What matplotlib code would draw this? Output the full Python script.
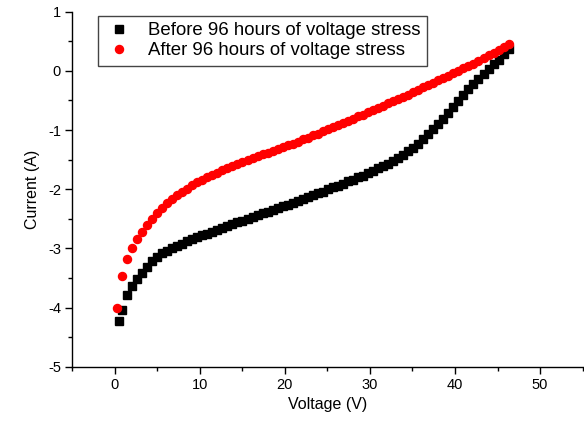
import matplotlib
matplotlib.use("Agg")
import matplotlib.pyplot as plt
from matplotlib.ticker import MultipleLocator

plt.rcParams['font.family'] = ['Liberation Sans', 'DejaVu Sans']
plt.rcParams['axes.unicode_minus'] = False

# shared part of the voltage sweep (V)
sweep = [0.87, 1.46, 2.05, 2.64, 3.23, 3.82, 4.41, 5.00, 5.59, 6.18,
         6.77, 7.36, 7.95, 8.54, 9.13, 9.72, 10.31, 10.90, 11.49, 12.08,
         12.67, 13.26, 13.85, 14.44, 15.03, 15.62, 16.21, 16.80, 17.39, 17.98,
         18.57, 19.16, 19.75, 20.34, 20.93, 21.52, 22.11, 22.70, 23.29, 23.88,
         24.47, 25.06, 25.65, 26.24, 26.83, 27.42, 28.01, 28.60, 29.19, 29.78,
         30.37, 30.96, 31.55, 32.14, 32.73, 33.32, 33.91, 34.50, 35.09, 35.68,
         36.27, 36.86, 37.45, 38.04, 38.63, 39.22, 39.81, 40.40, 40.99, 41.58,
         42.17, 42.76, 43.35, 43.94, 44.53, 45.12, 45.71, 46.30]

v_before = [0.55] + sweep
i_before = [-4.22, -4.04, -3.79, -3.63, -3.52, -3.41, -3.31, -3.22, -3.15, -3.08,
            -3.04, -3.00, -2.96, -2.92, -2.88, -2.85, -2.81, -2.78, -2.75, -2.72,
            -2.69, -2.66, -2.62, -2.59, -2.56, -2.53, -2.50, -2.47, -2.44, -2.41,
            -2.38, -2.35, -2.32, -2.29, -2.26, -2.23, -2.20, -2.17, -2.14, -2.10,
            -2.07, -2.04, -2.00, -1.97, -1.94, -1.91, -1.87, -1.84, -1.80, -1.77,
            -1.73, -1.69, -1.65, -1.61, -1.57, -1.52, -1.47, -1.42, -1.36, -1.30,
            -1.23, -1.15, -1.07, -0.99, -0.90, -0.81, -0.71, -0.61, -0.51, -0.41,
            -0.31, -0.22, -0.13, -0.05, 0.03, 0.11, 0.19, 0.28, 0.37]

v_after = [0.28] + sweep
i_after = [-4.00, -3.46, -3.18, -3.00, -2.85, -2.72, -2.60, -2.50, -2.41, -2.31,
           -2.23, -2.16, -2.10, -2.04, -1.99, -1.93, -1.88, -1.84, -1.80, -1.76,
           -1.72, -1.68, -1.65, -1.61, -1.58, -1.54, -1.51, -1.47, -1.44, -1.41,
           -1.38, -1.35, -1.32, -1.29, -1.26, -1.23, -1.20, -1.16, -1.13, -1.09,
           -1.06, -1.02, -0.99, -0.95, -0.92, -0.88, -0.85, -0.81, -0.77, -0.74,
           -0.70, -0.66, -0.62, -0.59, -0.55, -0.51, -0.48, -0.44, -0.40, -0.36,
           -0.32, -0.28, -0.24, -0.20, -0.16, -0.12, -0.08, -0.04, 0.00, 0.04,
           0.08, 0.12, 0.16, 0.21, 0.26, 0.31, 0.36, 0.41, 0.46]

fig = plt.figure(figsize=(5.84, 4.25), dpi=100)
ax = fig.add_axes([0.1233, 0.1372, 0.8744, 0.8353])

ax.plot(v_before, i_before, linestyle='none', marker='s', ms=5.6,
        color='black', mec='black', label='Before 96 hours of voltage stress')
ax.plot(v_after, i_after, linestyle='none', marker='o', ms=5.8,
        color='red', mec='red', label='After 96 hours of voltage stress')

ax.set_xlim(-5, 55)
ax.set_ylim(-5, 1)
ax.xaxis.set_major_locator(MultipleLocator(10))
ax.xaxis.set_minor_locator(MultipleLocator(5))
ax.yaxis.set_major_locator(MultipleLocator(1))
ax.yaxis.set_minor_locator(MultipleLocator(0.5))

ax.spines['top'].set_visible(False)
ax.spines['right'].set_visible(False)
for s in ['left', 'bottom']:
    ax.spines[s].set_linewidth(1.0)
ax.tick_params(which='major', direction='out', length=5, width=1.0,
               labelsize=10.5, pad=3)
ax.tick_params(which='minor', direction='out', length=3, width=1.0)

ax.set_xlabel('Voltage (V)', fontsize=11.5, labelpad=4)
ax.set_ylabel('Current (A)', fontsize=11.5, labelpad=6)

leg = ax.legend(loc='upper left', bbox_to_anchor=(0.05, 0.988),
                borderaxespad=0, fancybox=False, framealpha=1,
                edgecolor='#444444', fontsize=13.4, handlelength=1.6,
                handletextpad=0.75, borderpad=0.35, labelspacing=0.15)
leg.get_frame().set_linewidth(1.0)

fig.savefig('out.png', dpi=100)
